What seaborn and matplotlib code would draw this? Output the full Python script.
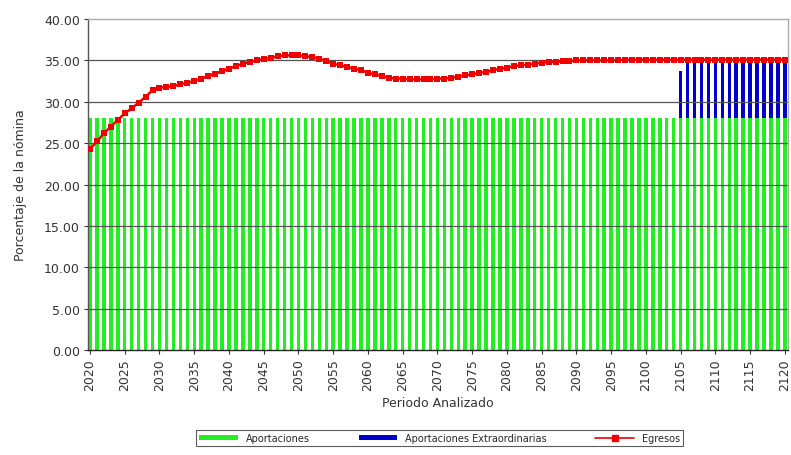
import numpy as np
import pandas as pd
import seaborn as sns
import matplotlib.pyplot as plt
from matplotlib.patches import Patch
from matplotlib.lines import Line2D

sns.set_theme()
sns.set_style("white")
plt.rcParams['font.family'] = ['DejaVu Sans']

# datos
years = list(range(2020, 2121))
aportaciones = [28.0] * len(years)
egresos = [24.3, 25.2, 26.2, 27.0, 27.8, 28.6, 29.2, 29.9, 30.6, 31.4,
           31.7, 31.8, 31.9, 32.1, 32.3, 32.5, 32.8, 33.1, 33.4, 33.7,
           34.0, 34.3, 34.6, 34.8, 35.0, 35.2, 35.3, 35.5, 35.6, 35.6,
           35.6, 35.5, 35.4, 35.2, 34.9, 34.6, 34.4, 34.2, 34.0, 33.8,
           33.5, 33.3, 33.1, 32.9, 32.8, 32.8, 32.7, 32.7, 32.7, 32.7,
           32.8, 32.8, 32.9, 33.0, 33.2, 33.3, 33.5, 33.6, 33.8, 34.0,
           34.1, 34.3, 34.4, 34.5, 34.6, 34.7, 34.8, 34.8, 34.9, 34.9,
           35.0, 35.0, 35.0, 35.0, 35.0, 35.0, 35.0, 35.1, 35.1, 35.1,
           35.1, 35.1, 35.1, 35.1, 35.1, 35.1, 35.1, 35.1, 35.1, 35.1,
           35.1, 35.1, 35.1, 35.1, 35.1, 35.1, 35.1, 35.1, 35.1, 35.1,
           35.1]
extra_years = list(range(2105, 2121))
extraordinarias = [5.75] + [7.1] * 15

df = pd.DataFrame({"anio": years, "aport": aportaciones, "egresos": egresos})
dx = pd.DataFrame({"anio": extra_years, "extra": extraordinarias})

fig = plt.figure(figsize=(7.91, 4.56), dpi=100)
ax = fig.add_axes([0.1116, 0.2303, 0.8846, 0.7258])

sns.barplot(data=df, x="anio", y="aport", native_scale=True, width=0.5,
            color="#22ee22", saturation=1, linewidth=0, edgecolor="none",
            ax=ax, zorder=2)
sns.barplot(data=dx, x="anio", y="extra", native_scale=True, width=0.5,
            color="#0000cc", saturation=1, linewidth=0, edgecolor="none",
            bottom=28.0, ax=ax, zorder=2)
sns.lineplot(data=df, x="anio", y="egresos", color="#ee0000", marker="s",
             markersize=4, markeredgewidth=0, linewidth=1.8, ax=ax, zorder=4)

ax.set_xlim(2019.75, 2120.45)
ax.set_ylim(0, 40)
ax.set_yticks(np.arange(0, 41, 5))
ax.set_yticklabels([f"{v:.2f}" for v in np.arange(0, 41, 5)], fontsize=9, color="#333333")
ax.set_xticks(range(2020, 2121, 5))
ax.set_xticklabels([str(y) for y in range(2020, 2121, 5)], rotation=90, fontsize=9, color="#333333")
ax.tick_params(axis="both", length=3, width=0.8, color="#333333", direction="out",
               bottom=True, left=True, pad=3)

for v in range(5, 40, 5):
    ax.axhline(v, color="#555555", linewidth=0.9, zorder=3)

ax.spines["left"].set_color("#555555")
ax.spines["bottom"].set_color("#222222")
ax.spines["top"].set_color("#aaaaaa")
ax.spines["right"].set_color("#aaaaaa")
for s in ax.spines.values():
    s.set_linewidth(1.0)

ax.set_xlabel("Periodo Analizado", fontsize=9, color="#333333", labelpad=4)
ax.set_ylabel("Porcentaje de la nómina", fontsize=9, color="#333333", labelpad=12)

handles = [Patch(facecolor="#22ee22", edgecolor="none"),
           Patch(facecolor="#0000cc", edgecolor="none"),
           Line2D([0], [0], color="#ee0000", marker="s", markersize=4, linewidth=1.2)]
leg = fig.legend(handles, ["Aportaciones", "Aportaciones Extraordinarias", "Egresos"],
                 loc="center", bbox_to_anchor=(0.556, 0.037), ncol=3, fontsize=7,
                 frameon=True, fancybox=False, edgecolor="#333333", handlelength=4,
                 handleheight=0.5, columnspacing=5, borderpad=0.3)
leg.get_frame().set_linewidth(0.8)

fig.savefig("out.png", dpi=100)
